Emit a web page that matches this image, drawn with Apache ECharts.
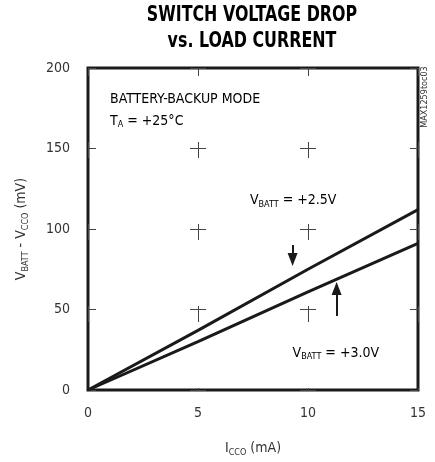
<!DOCTYPE html>
<html>
<head>
<meta charset="utf-8">
<script src="https://cdn.jsdelivr.net/npm/echarts@6/dist/echarts.min.js"></script>
<style>
  html, body { margin: 0; padding: 0; background: #fff; }
  #chart { width: 435px; height: 462px; }
</style>
</head>
<body>
<div id="chart"></div>
<script>
// load current, mA
const currents = [0, 5, 10, 15]
// switch voltage drop, mV
const dropBatt25 = [0, 37, 75, 112]
const dropBatt30 = [0, 30, 61, 91]
// arrow pointers [x, yFrom, yTo]
const arrowDown = [9.3, 90, 81]
const arrowUp = [11.3, 46, 63]

const font = '"Liberation Sans Narrow", "DejaVu Sans Condensed", sans-serif'
const ink = '#1a1a1a'

const chart = echarts.init(document.getElementById('chart'))

const sub = { fontSize: 9, verticalAlign: 'bottom', lineHeight: 10, fontFamily: font, color: '#333' }
const main = { fontSize: 14, lineHeight: 17, fontFamily: font, color: '#333' }

const option = {
  animation: false,
  textStyle: { fontFamily: font },
  grid: {
    left: 88,
    right: 17,
    top: 68,
    bottom: 66,
    show: true,
    borderColor: ink,
    borderWidth: 3
  },
  xAxis: {
    type: 'value',
    min: 0,
    max: 15,
    interval: 5,
    axisLine: { show: false },
    axisTick: { show: false },
    axisLabel: { fontSize: 14, color: '#333', margin: 16 },
    splitLine: {
      show: true,
      lineStyle: { color: '#444', width: 1, type: [16, 66], dashOffset: 8 }
    },
    name: '{m|I}{s|CCO}{m| (mA)}',
    nameLocation: 'middle',
    nameGap: 50,
    nameTextStyle: { rich: { m: main, s: sub } }
  },
  yAxis: {
    type: 'value',
    min: 0,
    max: 200,
    interval: 50,
    axisLine: { show: false },
    axisTick: { show: false },
    axisLabel: { fontSize: 14, color: '#333', margin: 18 },
    splitLine: {
      show: true,
      lineStyle: { color: '#444', width: 1, type: [16, 94], dashOffset: 8 }
    },
    name: '{m|V}{s|BATT}{m| - V}{s|CCO}{m| (mV)}',
    nameLocation: 'middle',
    nameGap: 58,
    nameTextStyle: { rich: { m: main, s: sub } }
  },
  series: [
    {
      name: 'VBATT = +2.5V',
      type: 'line',
      data: currents.map((c, i) => [c, dropBatt25[i]]),
      symbol: 'none',
      lineStyle: { color: ink, width: 3 },
      markLine: {
        silent: true,
        symbol: ['none', 'triangle'],
        symbolSize: [10, 13],
        label: { show: false },
        lineStyle: { color: ink, width: 2, type: 'solid' },
        data: [
          [{ coord: [arrowDown[0], arrowDown[1]] }, { coord: [arrowDown[0], arrowDown[2]] }],
          [{ coord: [arrowUp[0], arrowUp[1]] }, { coord: [arrowUp[0], arrowUp[2]] }]
        ]
      }
    },
    {
      name: 'VBATT = +3.0V',
      type: 'line',
      data: currents.map((c, i) => [c, dropBatt30[i]]),
      symbol: 'none',
      lineStyle: { color: ink, width: 3 }
    }
  ]
}

chart.setOption(option)

// annotations placed in data units
const notes = [
  { at: [1.0, 180.5], text: '{m|BATTERY-BACKUP MODE}' },
  { at: [1.0, 167], text: '{m|T}{s|A}{m| = +25°C}' },
  { at: [7.36, 117.7], text: '{m|V}{s|BATT}{m| = +2.5V}' },
  { at: [9.3, 23], text: '{m|V}{s|BATT}{m| = +3.0V}' }
]

const graphics = notes.map(n => {
  const p = chart.convertToPixel({ gridIndex: 0 }, n.at)
  return {
    type: 'text',
    x: p[0],
    y: p[1],
    style: {
      text: n.text,
      verticalAlign: 'middle',
      rich: { m: main, s: sub }
    }
  }
})

// condensed bold title
graphics.push({
  type: 'text',
  x: 252,
  y: 29,
  scaleX: 0.84,
  style: {
    text: 'SWITCH VOLTAGE DROP\nvs. LOAD CURRENT',
    align: 'center',
    verticalAlign: 'middle',
    font: 'bold 21px ' + font,
    lineHeight: 26,
    fill: '#000'
  }
})

graphics.push({
  type: 'text',
  x: 425,
  y: 97,
  rotation: Math.PI / 2,
  style: {
    text: 'MAX1259toc03',
    align: 'center',
    verticalAlign: 'middle',
    font: '9px ' + font,
    fill: '#333'
  }
})

chart.setOption({ graphic: graphics })
</script>
</body>
</html>
